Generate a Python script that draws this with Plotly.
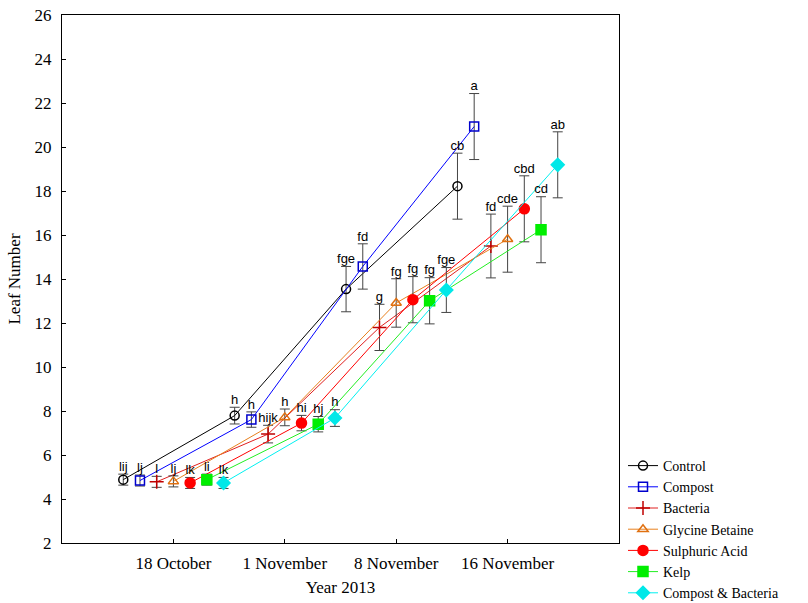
import plotly.graph_objects as go

dates = ["18 October", "1 November", "8 November", "16 November"]
date_pos = [1, 2, 3, 4]

treatments = ["Control", "Compost", "Bacteria", "Glycine Betaine",
              "Sulphuric Acid", "Kelp", "Compost & Bacteria"]
offsets = [-0.45, -0.30, -0.15, 0.0, 0.15, 0.30, 0.45]

control = [4.88, 7.79, 13.54, 18.22]
compost = [4.84, 7.61, 14.57, 20.93]
bacteria = [4.78, 6.95, 11.80, 15.50]
glycine = [4.80, 7.71, 12.91, 15.81]
sulphuric = [4.73, 7.45, 13.06, 17.19]
kelp = [4.88, 7.40, 13.01, 16.24]
comp_bact = [4.73, 7.68, 13.50, 19.19]

err_control = [0.25, 0.38, 1.03, 1.50]
err_compost = [0.25, 0.35, 1.03, 1.50]
err_bacteria = [0.25, 0.40, 1.05, 1.45]
err_glycine = [0.25, 0.38, 1.10, 1.50]
err_sulphuric = [0.25, 0.35, 1.05, 1.50]
err_kelp = [0.25, 0.35, 1.05, 1.50]
err_comp_bact = [0.25, 0.38, 1.02, 1.50]

lab_control = ["lij", "h", "fge", "cb"]
lab_compost = ["lj", "h", "fd", "a"]
lab_bacteria = ["l", "hijk", "g", "fd"]
lab_glycine = ["lj", "h", "fg", "cde"]
lab_sulphuric = ["lk", "hi", "fg", "cbd"]
lab_kelp = ["li", "hj", "fg", "cd"]
lab_comp_bact = ["lk", "h", "fge", "ab"]

values = [control, compost, bacteria, glycine, sulphuric, kelp, comp_bact]
errors = [err_control, err_compost, err_bacteria, err_glycine, err_sulphuric, err_kelp, err_comp_bact]
labels = [lab_control, lab_compost, lab_bacteria, lab_glycine, lab_sulphuric, lab_kelp, lab_comp_bact]

line_colors = ["#000000", "#0000ff", "#e02020", "#e8801e", "#ff0000", "#22ee22", "#00f0f0"]
marker_colors = ["#000000", "#0000cc", "#c00000", "#e07010", "#ff0000", "#00ee00", "#00e8e8"]
symbols = ["circle-open", "square-open", "cross-thin-open", "triangle-up-open",
           "circle", "square", "diamond"]
sizes = [9, 9, 10, 9, 10, 10, 10]

SERIF = "Liberation Serif, Times New Roman, serif"
legend_font = dict(family=SERIF, size=14, color="#000000")

fig = go.Figure()
for i, name in enumerate(treatments):
    xs = [p + offsets[i] for p in date_pos]
    fig.add_trace(go.Scatter(
        x=xs, y=values[i], name=name, mode="lines+markers",
        line=dict(color=line_colors[i], width=1),
        marker=dict(symbol=symbols[i], size=sizes[i], color=marker_colors[i],
                    line=dict(width=1.5, color=marker_colors[i])),
        textfont=legend_font,
        error_y=dict(type="data", array=errors[i], visible=True,
                     color="#444444", thickness=1, width=5),
    ))
for i, name in enumerate(treatments):
    xs = [p + offsets[i] for p in date_pos]
    tops = [v + e for v, e in zip(values[i], errors[i])]
    fig.add_trace(go.Scatter(
        x=xs, y=tops, mode="text", text=labels[i], textposition="top center",
        textfont=dict(family="Liberation Sans", size=13, color="#000000"),
        showlegend=False, hoverinfo="skip",
    ))

axis_font = dict(family=SERIF, size=17, color="#000000")
fig.update_layout(
    width=808, height=603,
    margin=dict(l=62, r=189, t=15, b=60),
    paper_bgcolor="white", plot_bgcolor="white",
    font=dict(family=SERIF, size=17, color="#000000"),
    showlegend=True,
    legend=dict(xref="container", yref="container",
                x=623 / 808, y=1 - 450 / 603, xanchor="left", yanchor="top",
                font=legend_font,
                bgcolor="rgba(0,0,0,0)", tracegroupgap=0, itemwidth=30),
)
fig.update_xaxes(
    range=[0, 5], tickvals=date_pos, ticktext=dates, automargin=False,
    showgrid=False, zeroline=False, showline=True, linecolor="#000000", linewidth=1,
    mirror=True, ticks="inside", ticklen=4, tickcolor="#000000",
    tickfont=axis_font, ticklabelstandoff=5,
    title=dict(text="Year 2013", font=axis_font, standoff=8),
)
fig.update_yaxes(
    range=[2, 26], tickvals=list(range(2, 27, 2)), automargin=False,
    showgrid=False, zeroline=False, showline=True, linecolor="#000000", linewidth=1,
    mirror=True, ticks="inside", ticklen=4, tickcolor="#000000",
    tickfont=axis_font, ticklabelstandoff=6,
    title=dict(text="Leaf Number", font=axis_font, standoff=9),
)
fig.write_html("out.html")
